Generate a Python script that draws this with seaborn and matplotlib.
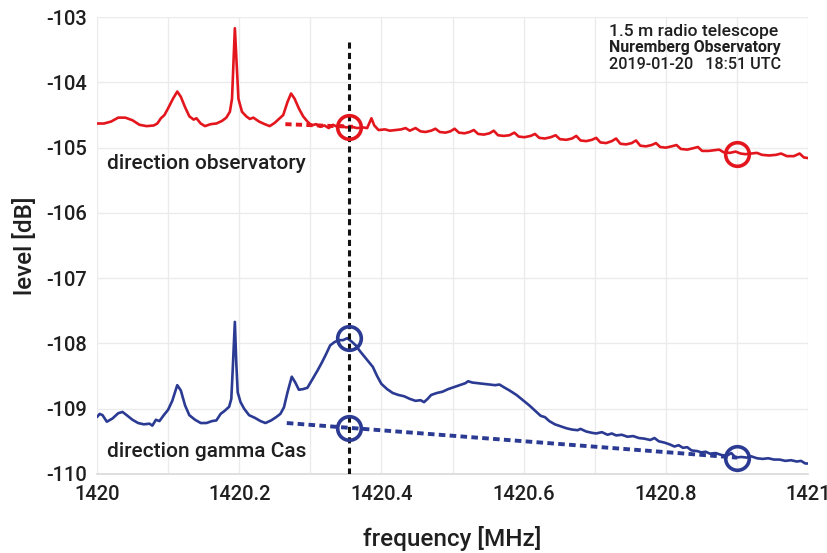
import matplotlib
matplotlib.use("Agg")
import matplotlib.pyplot as plt
import seaborn as sns
import pandas as pd
from matplotlib.ticker import MultipleLocator

# ---------------- data ----------------
red_freq = [1420.000, 1420.010, 1420.020, 1420.030, 1420.040, 1420.050, 1420.060, 1420.070,
            1420.080, 1420.085, 1420.090, 1420.095, 1420.100, 1420.107, 1420.113, 1420.118,
            1420.124, 1420.130, 1420.136, 1420.140, 1420.146, 1420.152, 1420.160, 1420.168,
            1420.176, 1420.182, 1420.187, 1420.190, 1420.192, 1420.194, 1420.196, 1420.199,
            1420.204, 1420.210, 1420.215, 1420.220, 1420.228, 1420.236, 1420.243, 1420.250,
            1420.256, 1420.262, 1420.268, 1420.273, 1420.278, 1420.284, 1420.290, 1420.296,
            1420.302, 1420.308, 1420.314, 1420.320, 1420.326, 1420.332, 1420.338, 1420.344,
            1420.350, 1420.358, 1420.366, 1420.374, 1420.380, 1420.386, 1420.390, 1420.396,
            1420.405, 1420.412, 1420.420, 1420.428, 1420.434, 1420.440, 1420.448, 1420.455,
            1420.462, 1420.470, 1420.476, 1420.482, 1420.490, 1420.497, 1420.503, 1420.509,
            1420.517, 1420.524, 1420.530, 1420.536, 1420.544, 1420.552, 1420.558, 1420.564,
            1420.572, 1420.580, 1420.587, 1420.593, 1420.601, 1420.610, 1420.616, 1420.622,
            1420.630, 1420.638, 1420.645, 1420.651, 1420.660, 1420.668, 1420.674, 1420.680,
            1420.688, 1420.696, 1420.702, 1420.708, 1420.716, 1420.724, 1420.730, 1420.736,
            1420.744, 1420.752, 1420.758, 1420.764, 1420.772, 1420.780, 1420.786, 1420.792,
            1420.800, 1420.808, 1420.815, 1420.821, 1420.830, 1420.838, 1420.845, 1420.851,
            1420.860, 1420.868, 1420.875, 1420.881, 1420.890, 1420.898, 1420.905, 1420.912,
            1420.920, 1420.928, 1420.935, 1420.945, 1420.955, 1420.962, 1420.970, 1420.980,
            1420.988, 1420.994, 1421.000]
red_level = [-104.63, -104.63, -104.60, -104.54, -104.54, -104.58, -104.65, -104.67,
             -104.66, -104.63, -104.55, -104.50, -104.40, -104.25, -104.14, -104.22,
             -104.38, -104.52, -104.57, -104.55, -104.63, -104.67, -104.64, -104.63,
             -104.59, -104.54, -104.45, -104.25, -103.70, -103.17, -103.60, -104.25,
             -104.45, -104.52, -104.56, -104.54, -104.60, -104.64, -104.67, -104.62,
             -104.56, -104.50, -104.30, -104.17, -104.25, -104.40, -104.52, -104.60,
             -104.66, -104.64, -104.68, -104.66, -104.70, -104.65, -104.68, -104.66,
             -104.69, -104.68, -104.70, -104.69, -104.70, -104.55, -104.66, -104.73,
             -104.72, -104.74, -104.73, -104.72, -104.70, -104.74, -104.70, -104.75,
             -104.76, -104.74, -104.71, -104.76, -104.77, -104.75, -104.71, -104.77,
             -104.78, -104.76, -104.73, -104.79, -104.80, -104.78, -104.74, -104.81,
             -104.82, -104.81, -104.77, -104.83, -104.84, -104.82, -104.79, -104.85,
             -104.86, -104.84, -104.81, -104.87, -104.88, -104.86, -104.82, -104.89,
             -104.90, -104.88, -104.85, -104.92, -104.93, -104.90, -104.86, -104.94,
             -104.95, -104.93, -104.89, -104.97, -104.98, -104.96, -104.93, -104.99,
             -105.00, -104.98, -104.96, -105.02, -105.03, -105.01, -104.99, -105.05,
             -105.05, -105.04, -105.03, -105.07, -105.08, -105.06, -105.09, -105.10,
             -105.09, -105.08, -105.11, -105.12, -105.11, -105.09, -105.13, -105.13,
             -105.09, -105.15, -105.16]

blue_freq = [1420.000, 1420.004, 1420.008, 1420.014, 1420.022, 1420.030, 1420.036, 1420.042,
             1420.050, 1420.058, 1420.066, 1420.074, 1420.078, 1420.083, 1420.088, 1420.094,
             1420.100, 1420.106, 1420.113, 1420.118, 1420.124, 1420.130, 1420.138, 1420.146,
             1420.154, 1420.162, 1420.168, 1420.174, 1420.180, 1420.186, 1420.189, 1420.191,
             1420.194, 1420.196, 1420.198, 1420.202, 1420.207, 1420.214, 1420.222, 1420.230,
             1420.237, 1420.245, 1420.252, 1420.258, 1420.263, 1420.268, 1420.274, 1420.279,
             1420.284, 1420.290, 1420.296, 1420.303, 1420.310, 1420.316, 1420.322, 1420.328,
             1420.334, 1420.340, 1420.346, 1420.352, 1420.358, 1420.364, 1420.370, 1420.376,
             1420.382, 1420.388, 1420.394, 1420.400, 1420.408, 1420.416, 1420.424, 1420.432,
             1420.440, 1420.448, 1420.455, 1420.460, 1420.465, 1420.470, 1420.478, 1420.486,
             1420.494, 1420.502, 1420.510, 1420.518, 1420.522, 1420.528, 1420.536, 1420.545,
             1420.552, 1420.560, 1420.566, 1420.572, 1420.580, 1420.590, 1420.600, 1420.608,
             1420.616, 1420.624, 1420.630, 1420.636, 1420.644, 1420.652, 1420.660, 1420.668,
             1420.676, 1420.680, 1420.688, 1420.696, 1420.702, 1420.710, 1420.718, 1420.724,
             1420.730, 1420.738, 1420.746, 1420.754, 1420.762, 1420.770, 1420.778, 1420.784,
             1420.790, 1420.798, 1420.806, 1420.812, 1420.818, 1420.824, 1420.830, 1420.836,
             1420.844, 1420.850, 1420.856, 1420.862, 1420.870, 1420.878, 1420.886, 1420.892,
             1420.898, 1420.906, 1420.914, 1420.920, 1420.928, 1420.936, 1420.944, 1420.952,
             1420.960, 1420.968, 1420.976, 1420.984, 1420.990, 1420.996, 1421.000]
blue_level = [-109.13, -109.08, -109.10, -109.20, -109.15, -109.07, -109.05, -109.10,
              -109.17, -109.22, -109.24, -109.23, -109.26, -109.17, -109.19, -109.10,
              -109.02, -108.88, -108.64, -108.72, -108.95, -109.10, -109.17, -109.22,
              -109.22, -109.19, -109.18, -109.08, -109.03, -108.97, -108.85, -108.40,
              -107.67, -108.30, -108.75, -108.90, -109.00, -109.10, -109.14, -109.19,
              -109.22, -109.18, -109.13, -109.08, -108.98, -108.75, -108.51, -108.60,
              -108.71, -108.70, -108.68, -108.55, -108.42, -108.30, -108.17, -108.03,
              -107.98, -107.95, -107.95, -107.92, -107.97, -108.03, -108.12, -108.20,
              -108.28, -108.36, -108.50, -108.62, -108.70, -108.76, -108.79, -108.81,
              -108.85, -108.88, -108.87, -108.90, -108.85, -108.79, -108.76, -108.74,
              -108.70, -108.67, -108.64, -108.61, -108.58, -108.60, -108.61, -108.62,
              -108.63, -108.64, -108.63, -108.67, -108.72, -108.79, -108.88, -108.95,
              -109.03, -109.11, -109.13, -109.19, -109.24, -109.27, -109.30, -109.32,
              -109.33, -109.31, -109.35, -109.37, -109.38, -109.36, -109.40, -109.38,
              -109.41, -109.40, -109.43, -109.42, -109.45, -109.46, -109.48, -109.45,
              -109.50, -109.52, -109.55, -109.58, -109.56, -109.60, -109.59, -109.64,
              -109.65, -109.67, -109.66, -109.69, -109.68, -109.71, -109.72, -109.68,
              -109.75, -109.74, -109.75, -109.73, -109.76, -109.77, -109.76, -109.78,
              -109.78, -109.80, -109.79, -109.81, -109.80, -109.84, -109.84]

# baseline fits (dotted)
red_base_freq = [1420.265, 1420.360]
red_base_level = [-104.64, -104.68]
blue_base_freq = [1420.267, 1420.900]
blue_base_level = [-109.22, -109.75]

# marked points (circles)
red_mark_freq = [1420.355, 1420.900]
red_mark_level = [-104.68, -105.09]
blue_mark_freq = [1420.355, 1420.355, 1420.900]
blue_mark_level = [-107.92, -109.29, -109.75]

# vertical line at the rest frequency
vline_freq = [1420.355, 1420.355]
vline_level = [-103.38, -110.0]

x_ticks = [1420, 1420.2, 1420.4, 1420.6, 1420.8, 1421]
x_tick_labels = ["1420", "1420.2", "1420.4", "1420.6", "1420.8", "1421"]
y_ticks = [-110, -109, -108, -107, -106, -105, -104, -103]
y_tick_labels = ["-110", "-109", "-108", "-107", "-106", "-105", "-104", "-103"]

# ---------------- style ----------------
sns.set_style("white")
plt.rcParams["font.family"] = ["Roboto", "DejaVu Sans"]

RED = "#e3161d"
BLUE = "#2b3a92"
TXT = "#1f1f1f"

fig = plt.figure(figsize=(8.28, 5.53), dpi=100)
ax = fig.add_axes([0.117, 0.143, 0.859, 0.826])

red_df = pd.DataFrame({"freq": red_freq, "level": red_level})
blue_df = pd.DataFrame({"freq": blue_freq, "level": blue_level})

# dotted baselines (under the spectra)
sns.lineplot(x=red_base_freq, y=red_base_level, ax=ax, color=RED, lw=2.8,
             linestyle=(0, (1.6, 1.1)), zorder=2)
sns.lineplot(x=blue_base_freq, y=blue_base_level, ax=ax, color=BLUE, lw=2.8,
             linestyle=(0, (1.7, 1.1)), zorder=2)

# spectra
sns.lineplot(data=red_df, x="freq", y="level", ax=ax, color=RED, lw=1.9,
             estimator=None, sort=False, zorder=3)
sns.lineplot(data=blue_df, x="freq", y="level", ax=ax, color=BLUE, lw=1.9,
             estimator=None, sort=False, zorder=3)

# vertical dotted line
ax.plot(vline_freq, vline_level, color="#111111", lw=2.2,
        linestyle=(0, (2.0, 1.4)), zorder=4)

# circles
ax.plot(red_mark_freq, red_mark_level, linestyle="none", marker="o", ms=17,
        mfc="none", mec=RED, mew=2.6, zorder=5)
ax.plot(blue_mark_freq, blue_mark_level, linestyle="none", marker="o", ms=17,
        mfc="none", mec=BLUE, mew=2.6, zorder=5)

# axes
ax.set_xlim(1420, 1421)
ax.set_ylim(-110, -103)
ax.set_xticks(x_ticks)
ax.set_xticklabels(x_tick_labels)
ax.set_yticks(y_ticks)
ax.set_yticklabels(y_tick_labels)
ax.xaxis.set_minor_locator(MultipleLocator(0.1))
ax.grid(True, which="major", color="#ebebeb", lw=1.0, zorder=0)
ax.grid(True, which="minor", axis="x", color="#ebebeb", lw=1.0, zorder=0)
ax.tick_params(axis="both", which="both", length=0)
ax.tick_params(axis="x", pad=8, labelsize=14.5, labelcolor=TXT)
ax.tick_params(axis="y", pad=7, labelsize=14.5, labelcolor=TXT)
for lab in ax.get_xticklabels() + ax.get_yticklabels():
    lab.set_fontweight("medium")
for side in ["left", "top", "right"]:
    ax.spines[side].set_visible(False)
ax.spines["bottom"].set_color("#d9d9d9")
ax.spines["bottom"].set_linewidth(1.2)

ax.set_xlabel("frequency [MHz]", fontsize=17.5, fontweight="medium", color=TXT, labelpad=16)
ax.set_ylabel("level [dB]", fontsize=17.5, fontweight="medium", color=TXT, labelpad=7)

# annotations
ax.text(1420.014, -105.24, "direction observatory", fontsize=15, fontweight="medium",
        color=TXT, va="center", ha="left")
ax.text(1420.014, -109.66, "direction gamma Cas", fontsize=15, fontweight="medium",
        color=TXT, va="center", ha="left")
ax.text(1420.72, -103.22, "1.5 m radio telescope", fontsize=12.6, fontweight="medium",
        color=TXT, va="center", ha="left")
ax.text(1420.72, -103.47, "Nuremberg Observatory", fontsize=11.4, fontweight="bold",
        color=TXT, va="center", ha="left")
ax.text(1420.72, -103.73, "2019-01-20   18:51 UTC", fontsize=11.6, fontweight="medium",
        color=TXT, va="center", ha="left")

fig.savefig("out.png", dpi=100)
